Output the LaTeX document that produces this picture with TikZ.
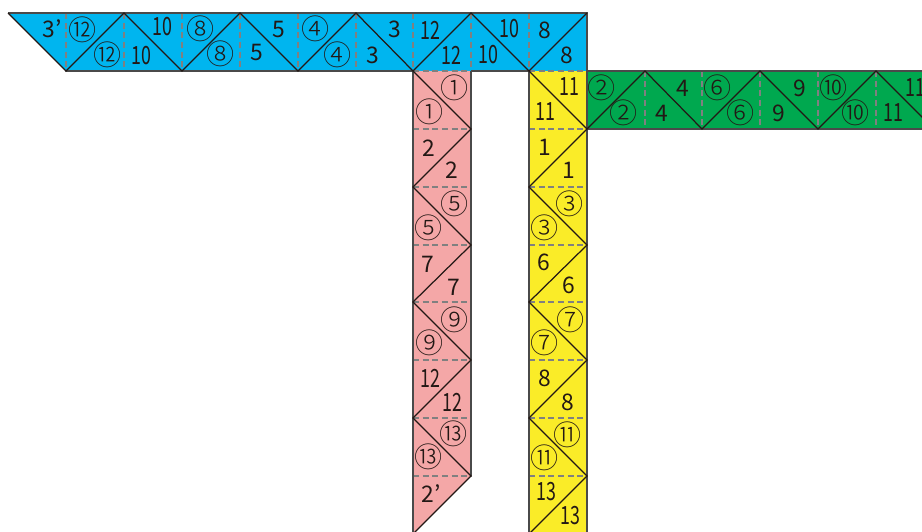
\documentclass[tikz,border=0pt]{standalone}
\usepackage{fontspec}
\setmainfont{Noto Sans CJK JP}
\newfontfamily\ringfont{Noto Sans CJK JP Light}
\usetikzlibrary{calc}
\definecolor{stripblue}{HTML}{00B5EF}
\definecolor{strippink}{HTML}{F4A7A7}
\definecolor{stripyellow}{HTML}{FAEC28}
\definecolor{stripgreen}{HTML}{00A84F}
\definecolor{inkdark}{HTML}{231815}
\definecolor{rimgrey}{HTML}{4A4A4A}
\tikzset{
  rim/.style={draw=rimgrey, line width=0.8pt},
  fold/.style={draw=inkdark, line width=0.7pt},
  crease/.style={draw=gray, line width=0.6pt, dash pattern=on 3.5pt off 2pt},
  lbl/.style={inner sep=0pt, text=inkdark, font=\fontsize{13}{14}\selectfont},
  ring/.style={inner sep=0pt, text=inkdark, font=\ringfont\fontsize{16}{17}\selectfont},
}
\newcommand{\nn}[1]{\scalebox{0.78}[1.1]{#1}}
\begin{document}
\begin{tikzpicture}[x=0.02cm, y=-0.02cm]
\useasboundingbox (0,0) rectangle (922,531);
\clip (0,0) rectangle (922,531);
% strips
\fill[stripblue] (8,13) -- (587,13) -- (587,71) -- (66,71) -- cycle;
\fill[strippink] (413,71) -- (471,71) -- (471,476) -- (413,534) -- cycle;
\fill[stripyellow] (529,71) -- (587,71) -- (587,534) -- (529,534) -- cycle;
\fill[stripgreen] (587,71) rectangle (930,129);
% creases
\foreach \x in {66,124,182,240,298,356,413,471,529}
  \draw[crease] (\x,13) -- (\x,71);
\foreach \x in {645,702,760,818,876}
  \draw[crease] (\x,71) -- (\x,129);
\foreach \y in {71,129,187,245,302,360,418,476} {
  \draw[crease] (413,\y) -- (471,\y);
  \draw[crease] (529,\y) -- (587,\y);
}
% outlines
\draw[rim] (8,13) -- (587,13) -- (587,71);
\draw[rim] (66,71) -- (413,71);
\draw[rim] (471,71) -- (529,71);
\draw[rim] (413,71) -- (413,534);
\draw[rim] (471,71) -- (471,476);
\draw[rim] (529,71) -- (529,534);
\draw[rim] (587,71) -- (587,534);
\draw[rim] (587,71) -- (930,71);
\draw[rim] (587,129) -- (930,129);
% diagonals
\draw[fold] (8,13) -- (66,71) -- (124,13) -- (182,71) -- (240,13) -- (298,71) -- (356,13) -- (413,71) -- (471,13) -- (529,71) -- (587,13);
\draw[fold] (587,129) -- (645,71) -- (702,129) -- (760,71) -- (818,129) -- (876,71) -- (934,129);
\draw[fold] (413,71) -- (471,129) -- (413,187) -- (471,245) -- (413,302) -- (471,360) -- (413,418) -- (471,476) -- (413,534);
\draw[fold] (529,71) -- (587,129) -- (529,187) -- (587,245) -- (529,302) -- (587,360) -- (529,418) -- (587,476) -- (529,534);
% plain numbers
\foreach \px/\py/\txt [count=\i] in {
  52/29/{3’}, 162/27/{\nn{10}}, 141/56/{\nn{10}}, 257/53/5, 279/30/5,
  373/55/3, 395/29/3, 430/30/{\nn{12}}, 451/55/{\nn{12}}, 488/55/{\nn{10}},
  509/29/{\nn{10}}, 545/30/8, 567/55/8,
  662/113/4, 683/88/4, 779/113/9, 800/88/9, 893/113/{\nn{11}}, 915/88/{\nn{11}},
  429/148/2, 452/170/2, 428/264/7, 454/287/7, 430/378/{\nn{12}}, 452/402/{\nn{12}}, 431/494/{2’},
  569/87/{\nn{11}}, 545/112/{\nn{11}}, 545/147/1, 569/170/1, 544/262/6, 569/285/6,
  545/378/8, 568/402/8, 546/492/{\nn{13}}, 570/516/{\nn{13}}}
  \node[lbl] (num\i) at (\px,\py) {\txt};
% circled numbers
\foreach \px/\py/\txt [count=\i] in {
  83/30/⑫, 108/55/⑫, 201/29/⑧, 221/54/⑧, 316/29/④, 338/55/④,
  602/88/②, 624/113/②, 718/88/⑥, 741/113/⑥, 834/88/⑩, 856/113/⑩,
  455/88/①, 430/112/①, 455/204/⑤, 429/228/⑤, 455/320/⑨, 430/343/⑨, 454/434/⑬, 429/457/⑬,
  570/204/③, 545/228/③, 571/320/⑦, 545/343/⑦, 568/435/⑪, 545/458/⑪}
  \node[ring] (circ\i) at (\px,\py) {\txt};
\end{tikzpicture}
\end{document}
